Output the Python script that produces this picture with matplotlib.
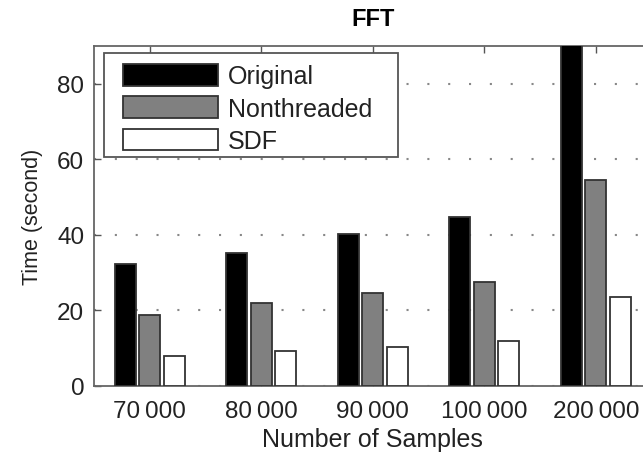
import matplotlib
matplotlib.use("Agg")
import matplotlib.pyplot as plt
from matplotlib.patches import Rectangle
import numpy as np

plt.rcParams['font.family'] = ['Liberation Sans', 'DejaVu Sans']

categories = ["70\u2009000", "80\u2009000", "90\u2009000", "100\u2009000", "200\u2009000"]
original = [32.3, 35.2, 40.3, 44.8, 95.0]
nonthreaded = [18.8, 22.0, 24.6, 27.5, 54.6]
sdf = [7.9, 9.3, 10.3, 11.9, 23.5]
series_names = ["Original", "Nonthreaded", "SDF"]
colors = ["#000000", "#808080", "#ffffff"]

fig = plt.figure(figsize=(6.43, 4.60), dpi=100)
ax = fig.add_axes([94/643, 73/460, 557.5/643, 340/460])

x = np.arange(1, len(categories) + 1)
width = 0.19
offset = 0.22
for i, (vals, name, c) in enumerate(zip([original, nonthreaded, sdf], series_names, colors)):
    ax.bar(x + (i - 1) * offset, vals, width, color=c, edgecolor="#333333",
           linewidth=1.3, label=name, zorder=3)

ax.set_xlim(0.5, 5.5)
ax.set_ylim(0, 90)
ax.set_yticks([0, 20, 40, 60, 80])
ax.set_xticks(x)
ax.set_xticklabels(categories)
ax.tick_params(axis='both', direction='in', top=True, right=True, length=5,
               labelsize=17.5, color="#555555", width=1.0, labelcolor="#222222")
ax.tick_params(axis='x', pad=10)
ax.tick_params(axis='y', pad=7)
ax.yaxis.grid(True, linestyle=(0, (1, 9)), color="#888888", linewidth=1.5, zorder=0)
for s in ax.spines.values():
    s.set_color("#666666")
    s.set_linewidth(1.3)

ax.set_xlabel("Number of Samples", fontsize=18, labelpad=4, color="#222222")
ax.set_ylabel("Time (second)", fontsize=15.5, labelpad=10, color="#222222")
ax.set_title("FFT", fontsize=17, fontweight="bold", pad=15)

# legend frame
frame = Rectangle((0.018, 0.674), 0.527, 0.305, transform=ax.transAxes,
                  facecolor="white", edgecolor="#555555", linewidth=1.3, zorder=4)
ax.add_patch(frame)

leg = ax.legend(loc="upper left", bbox_to_anchor=(0.052, 0.947), fontsize=18,
                handlelength=3.8, handleheight=0.95, labelspacing=0.32,
                handletextpad=0.4, borderpad=0.0, frameon=False, borderaxespad=0)
for t in leg.get_texts():
    t.set_color("#222222")
leg.set_zorder(5)

fig.savefig("out.png", dpi=100)
